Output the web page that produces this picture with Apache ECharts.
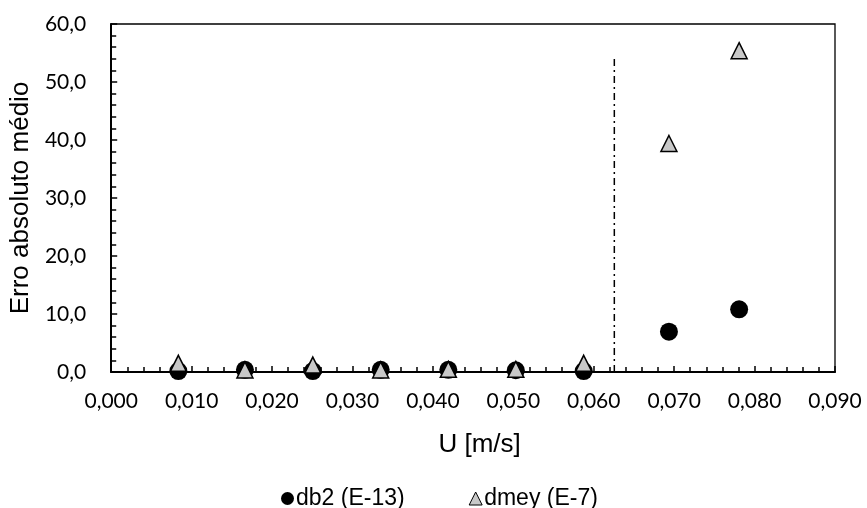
<!DOCTYPE html>
<html>
<head>
<meta charset="utf-8">
<script src="https://cdn.jsdelivr.net/npm/echarts@6/dist/echarts.min.js"></script>
<style>html,body{margin:0;padding:0;background:#fff}#c{width:867px;height:508px}</style>
</head>
<body>
<div id="c"></div>
<script>
const uValues = [0.00835, 0.01663, 0.02507, 0.03351, 0.04192, 0.05031, 0.05875, 0.06935, 0.07808];
const db2Values = [0.17, 0.37, 0.17, 0.37, 0.37, 0.3, 0.17, 6.95, 10.8];
const dmeyValues = [1.5, 0.34, 1.2, 0.34, 0.46, 0.46, 1.5, 39.4, 55.4];
const seriesNames = ['db2 (E-13)', 'dmey (E-7)'];
const limitU = 0.06256;
const limitTop = 54.4;
const xTitle = 'U [m/s]';
const yTitle = 'Erro absoluto médio';

const chart = echarts.init(document.getElementById('c'), null, {renderer: 'canvas'});
const pair = (xs, ys) => xs.map((x, i) => [x, ys[i]]);
chart.setOption({
  animation: false,
  backgroundColor: '#fff',
  grid: {left: 110, right: 32, top: 24, bottom: 136, show: true, borderColor: '#000', borderWidth: 1.3},
  legend: {
    left: 276, top: 482,
    itemWidth: 13, itemHeight: 13, itemGap: 64,
    textStyle: {fontFamily: 'Liberation Sans', fontSize: 23, color: '#000', padding: [0, 0, 0, -3]},
    data: [
      {name: seriesNames[0], icon: 'circle', itemStyle: {color: '#000', borderWidth: 0}},
      {name: seriesNames[1], icon: 'triangle', itemStyle: {color: '#c8c8c8', borderColor: '#000', borderWidth: 1}}
    ]
  },
  xAxis: {
    type: 'value', min: 0, max: 0.09, interval: 0.01,
    name: xTitle, nameLocation: 'middle', nameGap: 60,
    nameTextStyle: {fontFamily: 'Liberation Sans', fontSize: 26, color: '#000', verticalAlign: 'top', padding: [0, 0, 0, 13]},
    axisLine: {lineStyle: {color: '#000', width: 2}},
    axisTick: {inside: true, length: 6, lineStyle: {color: '#000', width: 1.5}},
    minorTick: {show: true, splitNumber: 5, length: 5, lineStyle: {color: '#000', width: 1.5}},
    splitLine: {show: false},
    axisLabel: {fontFamily: 'Lato', fontSize: 21, color: '#000', margin: 19,
      formatter: v => v.toFixed(3).replace('.', ',')}
  },
  yAxis: {
    type: 'value', min: 0, max: 60, interval: 10,
    name: yTitle, nameLocation: 'middle', nameGap: 74, nameRotate: 90,
    nameTextStyle: {fontFamily: 'Liberation Sans', fontSize: 26, color: '#000'},
    axisLine: {lineStyle: {color: '#000', width: 2}},
    axisTick: {inside: true, length: 6, lineStyle: {color: '#000', width: 1.5}},
    minorTick: {show: true, splitNumber: 5, length: 5, lineStyle: {color: '#000', width: 1.5}},
    splitLine: {show: false},
    axisLabel: {fontFamily: 'Lato', fontSize: 21, color: '#000', margin: 25,
      formatter: v => v.toFixed(1).replace('.', ',')}
  },
  series: [
    {
      name: 'limite', type: 'line', data: [[limitU, 0], [limitU, limitTop]],
      symbol: 'none', silent: true,
      lineStyle: {color: '#000', width: 1.5, type: [7, 4, 2, 4]}
    },
    {
      name: seriesNames[0], type: 'scatter', data: pair(uValues, db2Values),
      symbol: 'circle', symbolSize: 18,
      itemStyle: {color: '#000', opacity: 1}
    },
    {
      name: seriesNames[1], type: 'scatter', data: pair(uValues, dmeyValues),
      symbol: 'triangle', symbolSize: 16,
      itemStyle: {color: '#c8c8c8', borderColor: '#000', borderWidth: 1.5, opacity: 1}
    }
  ]
});
</script>
</body>
</html>
